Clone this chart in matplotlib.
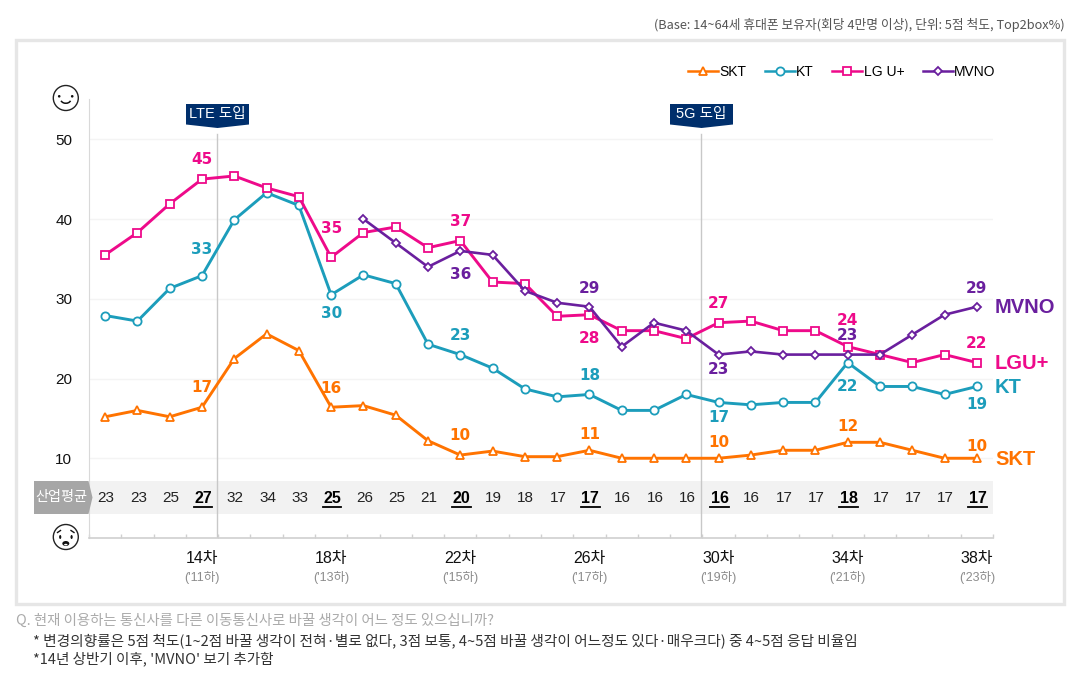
import matplotlib
matplotlib.use("Agg")
import matplotlib.pyplot as plt
from matplotlib.patches import Arc, Circle, Ellipse, Polygon, Rectangle
import numpy as np

plt.rcParams["font.family"] = ["Liberation Sans", "Noto Sans CJK KR", "DejaVu Sans"]

W, H = 1080, 677

skt = [15.2, 16, 15.2, 16.4, 22.5, 25.6, 23.5, 16.4, 16.6, 15.4, 12.2, 10.4, 10.9, 10.2,
       10.2, 11, 10, 10, 10, 10, 10.4, 11, 11, 12, 12, 11, 10, 10]
kt = [27.9, 27.2, 31.3, 32.9, 39.9, 43.3, 41.7, 30.5, 33, 31.9, 24.3, 23, 21.3, 18.7,
      17.7, 18, 16, 16, 18, 17, 16.7, 17, 17, 22, 19, 19, 18, 19]
lgu = [35.5, 38.3, 41.9, 45, 45.4, 43.9, 42.8, 35.2, 38.3, 39, 36.4, 37.3, 32.1, 31.9,
       27.8, 28, 26, 26, 25, 27, 27.2, 26, 26, 24, 23, 22, 23, 22]
# MVNO starts at the 9th wave
mvno = [np.nan] * 8 + [40, 37, 34, 36, 35.5, 31, 29.5, 29, 24, 27, 26, 23, 23.4, 23, 23,
                       23, 23, 25.5, 28, 29]
industry = [23, 23, 25, 27, 32, 34, 33, 25, 26, 25, 21, 20, 19, 18, 17, 17, 16, 16, 16, 16,
            16, 17, 17, 18, 17, 17, 17, 17]

wave_idx = [3, 7, 11, 15, 19, 23, 27]
wave_labels = ["14차", "18차", "22차", "26차", "30차", "34차", "38차"]
year_labels = ["('11하)", "('13하)", "('15하)", "('17하)", "('19하)", "('21하)", "('23하)"]

# (index, text, pixels above the point)
skt_labels = [(3, "17", 21), (7, "16", 20), (11, "10", 21), (15, "11", 17),
              (19, "10", 17), (23, "12", 17), (27, "10", 13)]
kt_labels = [(3, "33", 27.7), (7, "30", -17), (11, "23", 20.6), (15, "18", 20.5),
             (19, "17", -13.5), (23, "22", -22.4), (27, "19", -16.5)]
lgu_labels = [(3, "45", 21), (7, "35", 30), (11, "37", 20.6), (15, "28", -22),
              (19, "27", 20.7), (23, "24", 27.6), (27, "22", 20.6)]
mvno_labels = [(11, "36", -22), (15, "29", 20), (19, "23", -13.4), (23, "23", 20.6),
               (27, "29", 20)]

ORANGE = "#FF7300"
TEAL = "#1C9DBB"
PINK = "#EE0A8A"
PURPLE = "#6A1F9E"
NAVY = "#002F6C"

fig = plt.figure(figsize=(W / 100, H / 100), dpi=100)

# full-figure layers in pixel coordinates for the frame, badges and faces
bg = fig.add_axes([0, 0, 1, 1], zorder=0)
bg.set_xlim(0, W)
bg.set_ylim(H, 0)
bg.axis("off")
bg.add_patch(Rectangle((16, 40), 1048, 563.5, fc="white", ec="#E6E6E6", lw=2.4))

fg = fig.add_axes([0, 0, 1, 1], zorder=2)
fg.set_xlim(0, W)
fg.set_ylim(H, 0)
fg.axis("off")

ax = fig.add_axes([89 / W, 1 - 538 / H, 904 / W, 438.6 / H], zorder=1)
ax.patch.set_alpha(0)
x = np.arange(28)
ax.set_xlim(-0.5, 27.5)
ax.set_ylim(0, 55)

ax.axhspan(3.05, 7.2, color="#F2F2F2", lw=0, zorder=0)
for y in [10, 20, 30, 40, 50]:
    ax.axhline(y, color="#F4F4F4", lw=1, zorder=0.5)
for b in [3.47, 18.47]:
    ax.plot([b, b], [0, 50.6], color="#C8C8C8", lw=1, zorder=1)

series = [
    (skt, ORANGE, "^", 5.9, 2.1, "SKT", skt_labels),
    (kt, TEAL, "o", 5.9, 2.1, "KT", kt_labels),
    (lgu, PINK, "s", 5.9, 2.1, "LG U+", lgu_labels),
    (mvno, PURPLE, "D", 4.2, 1.9, "MVNO", mvno_labels),
]
for vals, col, mk, ms, lw, name, labels in series:
    ax.plot(x, vals, color=col, lw=lw, marker=mk, ms=ms, mfc="white", mec=col, mew=1.3,
            label=name, zorder=3, clip_on=False)
    for i, txt, dy in labels:
        ax.annotate(txt, (i, vals[i]), xytext=(0, dy * 0.72 - 1), textcoords="offset points",
                    ha="center", va="center", color=col, fontsize=11, fontweight="bold",
                    family="DejaVu Sans", zorder=4)

end_names = [("MVNO", mvno, PURPLE, -0.7), ("LGU+", lgu, PINK, -0.7), ("KT", kt, TEAL, -0.7), ("SKT", skt, ORANGE, -0.7)]
for name, vals, col, dy in end_names:
    ax.annotate(name, (27, vals[-1]), xytext=(13, dy), textcoords="offset points", ha="left",
                va="center", color=col, fontsize=14.5, fontweight="bold", annotation_clip=False)

# industry average row
for i, v in enumerate(industry):
    if i in wave_idx:
        ax.text(i + 0.03, 5, str(v), ha="center", va="center", fontsize=11.5, fontweight="bold",
                color="black", zorder=4)
        ax.plot([i - 0.26, i + 0.32], [3.92, 3.92], color="black", lw=1.3, zorder=4)
    else:
        ax.text(i + 0.03, 5, str(v), ha="center", va="center", fontsize=11, color="#222222", zorder=4)

ax.set_yticks([10, 20, 30, 40, 50])
ax.tick_params(axis="y", length=0, labelsize=11, pad=12, labelcolor="#111111")
ax.set_xticks(wave_idx)
ax.set_xticklabels(wave_labels, fontsize=11.5, color="#111111")
ax.set_xticks(np.arange(-0.5, 28), minor=True)
ax.tick_params(axis="x", which="major", length=0, pad=9.5)
ax.tick_params(axis="x", which="minor", direction="in", length=3, color="#D0D0D0", width=1)
for i, lab in zip(wave_idx, year_labels):
    ax.annotate(lab, (i, 0), xytext=(0, -28.5), textcoords="offset points", ha="center", va="center",
                fontsize=9, color="#8C8C8C", annotation_clip=False)

for s in ["top", "right"]:
    ax.spines[s].set_visible(False)
ax.spines["left"].set_color("#D9D9D9")
ax.spines["bottom"].set_color("#D0D0D0")
ax.spines["bottom"].set_linewidth(1.2)

leg = fig.legend(loc="center right", bbox_to_anchor=(995.5 / W, 1 - 71.5 / H), ncol=4, frameon=False,
                 fontsize=10, handlelength=2.15, handletextpad=0.1, columnspacing=1.34,
                 borderpad=0, borderaxespad=0)
for line in leg.get_lines():
    line.set_linewidth(1.8)

# badges
for cx, txt in [(217.5, "LTE 도입"), (701.5, "5G 도입")]:
    bg.add_patch(Polygon([(cx - 31.5, 104), (cx + 31.5, 104), (cx + 31.5, 124.5), (cx, 128), (cx - 31.5, 124.5)],
                         fc=NAVY, ec="none"))
    bg.text(cx, 114, txt, color="white", ha="center", va="center", fontsize=10.5)

# row title
fg.add_patch(Polygon([(34, 481), (88.5, 481), (92.5, 497.5), (88.5, 514), (34, 514)], fc="#A6A6A6", ec="none"))
fg.text(61.5, 497.5, "산업평균", color="white", ha="center", va="center", fontsize=10.2)

# faces
bg.add_patch(Circle((65.8, 98), 12.5, fc="white", ec="#222222", lw=1))
bg.add_patch(Circle((59.2, 96.3), 1.3, fc="#111111", ec="none"))
bg.add_patch(Circle((72.2, 96.3), 1.3, fc="#111111", ec="none"))
bg.add_patch(Arc((65.8, 99.5), 10, 7.5, theta1=15, theta2=165, color="#111111", lw=1.1))
bg.add_patch(Circle((65.8, 537), 12.5, fc="white", ec="#222222", lw=1))
bg.add_patch(Ellipse((60.2, 537), 2.2, 4, fc="#111111", ec="none"))
bg.add_patch(Ellipse((71.6, 537), 2.2, 4, fc="#111111", ec="none"))
bg.plot([57.5, 60.5], [532.5, 530.5], color="#111111", lw=1)
bg.plot([71, 74], [530.5, 532.5], color="#111111", lw=1)
bg.add_patch(Ellipse((65.8, 543.5), 7, 5, fc="#111111", ec="none"))
bg.add_patch(Ellipse((65.8, 544.6), 3.4, 1.6, fc="white", ec="none"))

# notes
bg.text(1065, 25, "(Base: 14~64세 휴대폰 보유자(회당 4만명 이상), 단위: 5점 척도, Top2box%)",
        ha="right", va="center", fontsize=9.2, color="#555555", family=["Noto Sans CJK KR"])
bg.text(16, 621, "Q. 현재 이용하는 통신사를 다른 이동통신사로 바꿀 생각이 어느 정도 있으십니까?",
        ha="left", va="center", fontsize=10.4, color="#ABABAB", family=["Noto Sans CJK KR"])
bg.text(33, 641, "* 변경의향률은 5점 척도(1~2점 바꿀 생각이 전혀·별로 없다, 3점 보통, 4~5점 바꿀 생각이 어느정도 있다·매우크다) 중 4~5점 응답 비율임",
        ha="left", va="center", fontsize=10.6, color="#333333", family=["Noto Sans CJK KR"])
bg.text(33, 659, "*14년 상반기 이후, 'MVNO' 보기 추가함",
        ha="left", va="center", fontsize=10.5, color="#333333", family=["Noto Sans CJK KR"])

fig.savefig("out.png", dpi=100)
